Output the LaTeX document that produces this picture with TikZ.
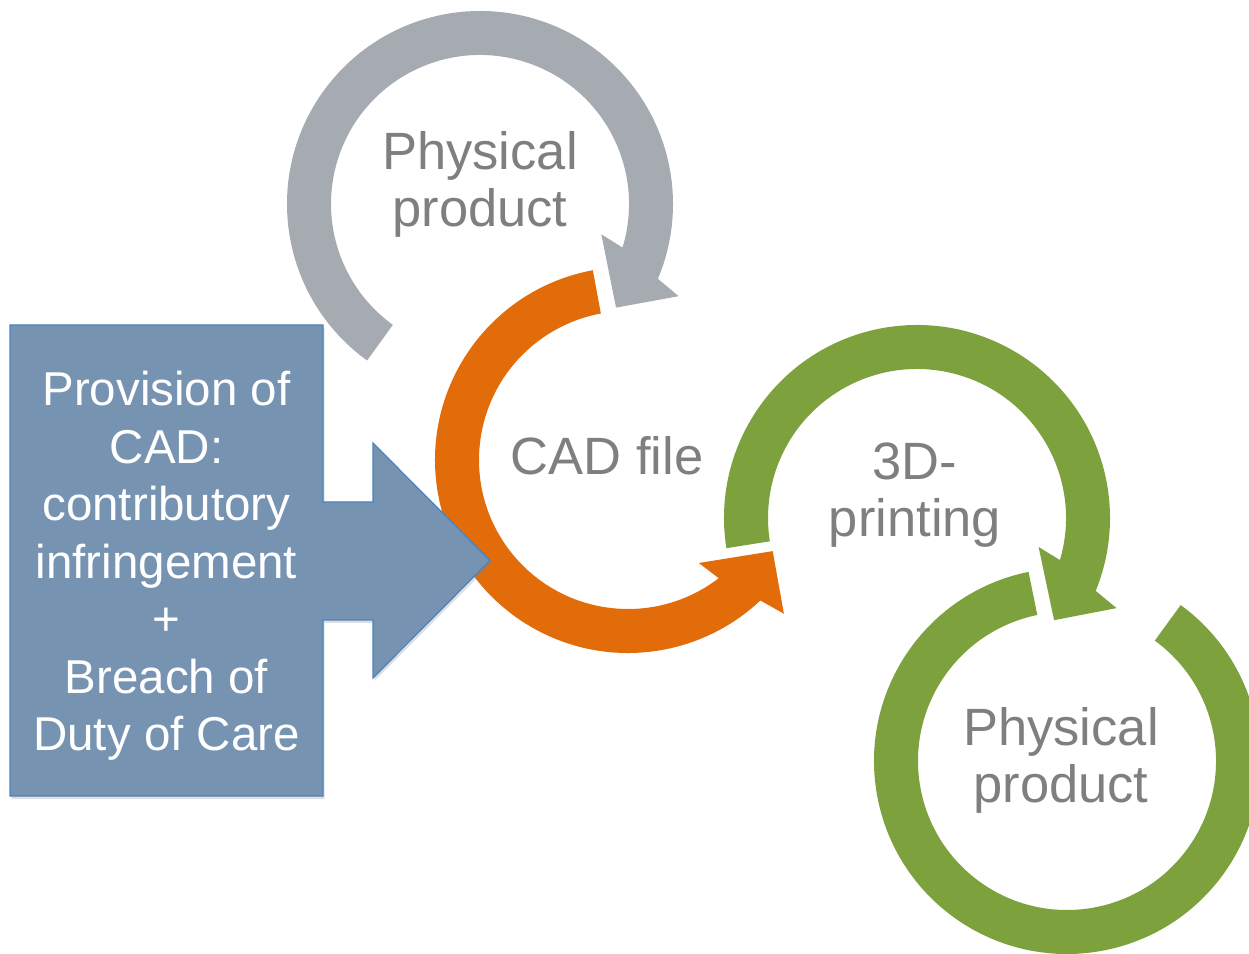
\documentclass[tikz,border=0pt]{standalone}
\usepackage{fontspec}
\setmainfont{Liberation Sans}
\usepackage{xcolor}
\usetikzlibrary{shadows}

\definecolor{arcgray}{HTML}{A5ABB1}
\definecolor{arcorange}{HTML}{E36C0A}
\definecolor{arcgreen}{HTML}{7CA13D}
\definecolor{labelgray}{HTML}{7F7F7F}
\definecolor{calloutblue}{HTML}{7793B2}
\definecolor{calloutedge}{HTML}{4F81BD}

\begin{document}
\begin{tikzpicture}[
  x=1pt, y=1pt,
  circlabel/.style={font=\fontsize{52.5}{57}\selectfont, text=labelgray, align=center, inner sep=0pt},
  calloutlabel/.style={font=\fontsize{47.5}{57.5}\selectfont, text=white, align=center, inner sep=0pt},
  callout/.style={fill=calloutblue, draw=calloutedge, line width=1.2pt, line join=miter,
    drop shadow={shadow xshift=1.5pt, shadow yshift=-3pt, opacity=0.25}}
]
  \useasboundingbox (0,0) rectangle (1249,953);
  \clip (0,0) rectangle (1249,953);

  % centres of the four cycles
  \coordinate (grayc) at (480,749);
  \coordinate (orangec) at (628,493);
  \coordinate (greenc) at (917,435);
  \coordinate (lastc) at (1067,192);

  % Physical product -> CAD file (clockwise)
  \begin{scope}[shift={(grayc)}]
    \fill[arcgray] (234.2:193pt) arc[start angle=234.2, end angle=-22.8, radius=193pt]
      -- (-24.9:219pt) -- (-37.3:171pt) -- (-14:125pt) -- (-17:149pt)
      arc[start angle=-17, end angle=234.2, radius=149pt] -- cycle;
  \end{scope}

  % CAD file -> 3D-printing (counter-clockwise)
  \begin{scope}[shift={(orangec)}]
    \fill[arcorange] (100.5:193pt) arc[start angle=100.5, end angle=313.3, radius=193pt]
      -- (315.4:219pt) -- (327.8:171pt) -- (304.5:125pt) -- (307.5:149pt)
      arc[start angle=307.5, end angle=100.5, radius=149pt] -- cycle;
  \end{scope}

  % 3D-printing -> Physical product (clockwise)
  \begin{scope}[shift={(greenc)}]
    \fill[arcgreen] (189:193pt) arc[start angle=189, end angle=-22.2, radius=193pt]
      -- (-24.3:219pt) -- (-36.7:171pt) -- (-13.4:125pt) -- (-16.4:149pt)
      arc[start angle=-16.4, end angle=189, radius=149pt] -- cycle;
  \end{scope}

  % last cycle, no head
  \begin{scope}[shift={(lastc)}]
    \fill[arcgreen] (101.5:193pt) arc[start angle=101.5, end angle=413.9, radius=193pt]
      -- (413.9:149pt) arc[start angle=413.9, end angle=101.5, radius=149pt] -- cycle;
  \end{scope}

  % labels
  \node[circlabel, anchor=north] (physA) at (480,822) {Physical\\product};
  \node[circlabel, anchor=base] (cad) at (607,478) {CAD file};
  \node[circlabel, anchor=north] (printing) at (915,510) {3D-\\printing};
  \node[circlabel, anchor=north] (physB) at (1061,246) {Physical\\product};

  % callout box with arrow into the CAD cycle
  \filldraw[callout] (10,628) -- (323,628) -- (323,451) -- (373,451) -- (373,510)
    -- (490,392.5) -- (373,275) -- (373,333) -- (323,333) -- (323,157) -- (10,157) -- cycle;
  \node[calloutlabel, anchor=north] (provision) at (166.5,582)
    {Provision of\\CAD:\\contributory\\infringement\\+\\Breach of\\Duty of Care};
\end{tikzpicture}
\end{document}
